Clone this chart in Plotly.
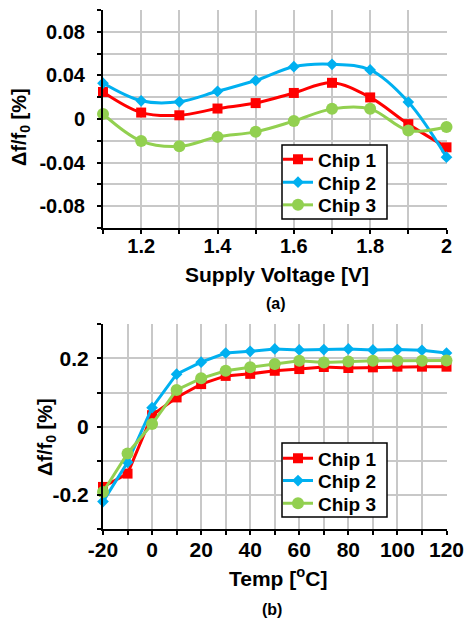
import plotly.graph_objects as go

# ---- data ----
volt = [1.1, 1.2, 1.3, 1.4, 1.5, 1.6, 1.7, 1.8, 1.9, 2.0]
v_chip1 = [0.0248, 0.0059, 0.0034, 0.0096, 0.0146, 0.0239, 0.0332, 0.0198, -0.0047, -0.026]
v_chip2 = [0.0329, 0.0167, 0.0158, 0.0254, 0.0353, 0.0480, 0.0502, 0.0450, 0.0155, -0.035]
v_chip3 = [0.0047, -0.0202, -0.0251, -0.0164, -0.0118, -0.0019, 0.0093, 0.0093, -0.0105, -0.0074]

temp = [-20, -10, 0, 10, 20, 30, 40, 50, 60, 70, 80, 90, 100, 110, 120]
t_chip1 = [-0.176, -0.137, 0.034, 0.086, 0.125, 0.149, 0.155, 0.164, 0.169, 0.175, 0.172, 0.174, 0.176, 0.176, 0.176]
t_chip2 = [-0.219, -0.104, 0.056, 0.154, 0.189, 0.216, 0.221, 0.228, 0.225, 0.226, 0.228, 0.225, 0.226, 0.224, 0.216]
t_chip3 = [-0.191, -0.078, 0.008, 0.108, 0.142, 0.164, 0.174, 0.184, 0.193, 0.188, 0.191, 0.193, 0.193, 0.193, 0.194]

names = ["Chip 1", "Chip 2", "Chip 3"]
colors = ["#ff0000", "#00b0f0", "#92d050"]
symbols = ["square", "diamond", "circle"]
msizes = [10, 9, 12]

# ticks
xa_vals = [1.1, 1.2, 1.3, 1.4, 1.5, 1.6, 1.7, 1.8, 1.9, 2.0]
xa_text = ["", "1.2", "", "1.4", "", "1.6", "", "1.8", "", "2"]
ya_vals = [-0.1, -0.08, -0.06, -0.04, -0.02, 0, 0.02, 0.04, 0.06, 0.08, 0.1]
ya_text = ["", "-0.08", "", "-0.04", "", "0", "", "0.04", "", "0.08", ""]
xb_vals = [-20, -10, 0, 10, 20, 30, 40, 50, 60, 70, 80, 90, 100, 110, 120]
xb_text = ["-20", "", "0", "", "20", "", "40", "", "60", "", "80", "", "100", "", "120"]
yb_vals = [-0.3, -0.2, -0.1, 0, 0.1, 0.2, 0.3]
yb_text = ["", "-0.2", "", "0", "", "0.2", ""]

W, H = 466, 620
FONT = "Liberation Sans, Arial, sans-serif"


def px_x(p):
    return p / W


def px_y(p):
    return 1 - p / H


# legend layout (pixel positions of each row centre)
leg_rows_a = [159.3, 182.3, 205.0]
leg_rows_b = [458.3, 480.7, 503.3]
leg_x = 278
box_a = (282, 145, 387, 219)
box_b = (282, 443, 387, 517)

fig = go.Figure()

for i, (name, col, sym, ms, ys) in enumerate(zip(names, colors, symbols, msizes, [v_chip1, v_chip2, v_chip3])):
    fig.add_trace(go.Scatter(x=volt, y=ys, name=name, mode="lines+markers",
                             line=dict(color=col, width=3, shape="spline", smoothing=1),
                             marker=dict(color=col, symbol=sym, size=ms),
                             cliponaxis=False, xaxis="x", yaxis="y", showlegend=True,
                             legend="legend" if i == 0 else f"legend{i + 1}"))
for i, (name, col, sym, ms, ys) in enumerate(zip(names, colors, symbols, msizes, [t_chip1, t_chip2, t_chip3])):
    fig.add_trace(go.Scatter(x=temp, y=ys, name=name, mode="lines+markers",
                             line=dict(color=col, width=3),
                             marker=dict(color=col, symbol=sym, size=ms),
                             cliponaxis=False, xaxis="x2", yaxis="y2", showlegend=True,
                             legend=f"legend{i + 4}"))

axis_common = dict(showline=True, linecolor="black", linewidth=2, ticks="outside",
                   ticklen=4, tickwidth=2, tickcolor="black", showgrid=True,
                   gridcolor="#c8c8c8", gridwidth=1.5, zeroline=False, automargin=False,
                   tickmode="array")


def tfont(s):
    return dict(size=s, color="black", family=FONT, weight="bold")


legend_common = dict(xanchor="left", yanchor="middle", bgcolor="rgba(0,0,0,0)",
                     borderwidth=0, font=dict(size=19, family=FONT, weight="bold", color="black"),
                     tracegroupgap=0, itemwidth=30, visible=True)

legends = {}
for i, yy in enumerate(leg_rows_a + leg_rows_b):
    key = "legend" if i == 0 else f"legend{i + 1}"
    legends[key] = dict(x=px_x(leg_x), y=px_y(yy), **legend_common)

xdom = [px_x(103), px_x(446.5)]
fig.update_layout(
    template="none", showlegend=True,
    width=W, height=H, margin=dict(l=0, r=0, t=0, b=0, pad=0), autosize=False,
    paper_bgcolor="white", plot_bgcolor="white",
    font=dict(family=FONT, color="black", weight="bold"),
    xaxis=dict(domain=xdom, range=[1.1, 2.0], tickvals=xa_vals, ticktext=xa_text,
               anchor="y", tickfont=tfont(20), ticklabelstandoff=-5, **axis_common),
    yaxis=dict(domain=[px_y(228), px_y(10)], range=[-0.1, 0.1], tickvals=ya_vals,
               ticktext=ya_text, anchor="x", ticklabelstandoff=8, tickfont=tfont(20),
               **axis_common),
    xaxis2=dict(domain=xdom, range=[-20, 120], tickvals=xb_vals, ticktext=xb_text,
                anchor="y2", tickfont=tfont(21), ticklabelstandoff=-4, **axis_common),
    yaxis2=dict(domain=[px_y(529.3), px_y(324.3)], range=[-0.3, 0.3], tickvals=yb_vals,
                ticktext=yb_text, anchor="x2", ticklabelstandoff=4, tickfont=tfont(21),
                **axis_common),
    **legends,
)

for (x0, y0, x1, y1) in (box_a, box_b):
    fig.add_shape(type="rect", xref="paper", yref="paper",
                  x0=px_x(x0), x1=px_x(x1), y0=px_y(y1), y1=px_y(y0),
                  line=dict(color="black", width=1.5), fillcolor="white", layer="above")

ann = [
    dict(text="Δf/f<sub>0</sub> [%]", x=px_x(20), y=px_y(127), textangle=-90, size=20),
    dict(text="Δf/f<sub>0</sub> [%]", x=px_x(46), y=px_y(437), textangle=-90, size=20),
    dict(text="Supply Voltage [V]", x=px_x(277), y=px_y(274), textangle=0, size=21),
    dict(text="Temp [<sup>o</sup>C]", x=px_x(278), y=px_y(577), textangle=0, size=21),
    dict(text="(a)", x=px_x(276), y=px_y(304), textangle=0, size=16),
    dict(text="(b)", x=px_x(272), y=px_y(609), textangle=0, size=16),
]
for a in ann:
    fig.add_annotation(text=a["text"], x=a["x"], y=a["y"], xref="paper", yref="paper",
                       xanchor="center", yanchor="middle", showarrow=False,
                       textangle=a["textangle"],
                       font=dict(size=a["size"], family=FONT, color="black", weight="bold"))

fig.write_html("out.html", config={"displayModeBar": False},
               post_script="document.body.style.margin='0';document.body.style.overflow='hidden';")
